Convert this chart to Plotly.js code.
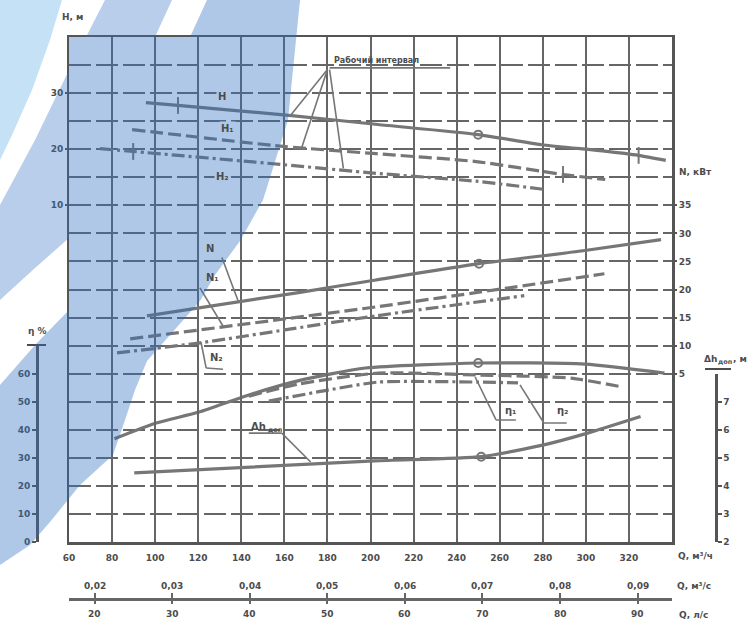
<!DOCTYPE html>
<html><head><meta charset="utf-8">
<script src="https://cdn.plot.ly/plotly-3.0.1.min.js"></script>
<style>html,body{margin:0;padding:0;background:#fff;} #chart{width:752px;height:629px;}</style>
</head><body><div id="chart"></div>
<script>
// ---------- data ----------
const qH    = [95.7, 110.6, 163.3, 203.4, 250.0, 279.3, 307.7, 324.5, 337.1];
const headH = [28.3, 27.8, 26.0, 24.4, 22.6, 20.8, 19.7, 18.9, 18.0];
const qH1    = [89.3, 159.4, 202.6, 249.0, 289.4, 309.0];
const headH1 = [23.5, 20.5, 19.2, 17.8, 15.5, 14.6];
const qH2    = [74.4, 89.8, 158.0, 202.6, 249.0, 281.5];
const headH2 = [20.1, 19.6, 17.3, 15.7, 14.3, 12.8];

const qN     = [96.2, 167.3, 202.5, 250.4, 298.7, 334.9];
const powerN = [15.3, 19.5, 21.7, 24.6, 26.9, 28.9];
const qN1     = [88.4, 202.5, 264.4, 308.6];
const powerN1 = [11.2, 16.9, 20.3, 22.8];
const qN2     = [82.3, 120.9, 202.5, 271.4];
const powerN2 = [8.7, 10.5, 15.3, 18.9];

const qEta = [81.1, 100.5, 120.4, 143.5, 166.7, 197.7, 250.0, 299.5, 336.5];
const eta  = [36.8, 42.4, 46.3, 52.4, 57.5, 62.0, 63.8, 63.4, 60.2];
const qEta1 = [143.5, 166.7, 203.7, 250.0, 293.0, 317.1];
const eta1  = [52.0, 56.3, 60.2, 59.5, 58.4, 55.2];
const qEta2 = [152.8, 180.6, 203.7, 250.0, 268.5];
const eta2  = [50.2, 54.2, 57.0, 57.0, 56.7];

const qNpsh = [90.3, 201.8, 251.4, 280.5, 300.4, 325.4];
const npsh  = [4.46, 4.89, 5.04, 5.46, 5.87, 6.47];

// best-efficiency markers (circles)
const bepQ    = [250.0, 250.4, 250.0, 251.4];
const bepVals = [22.6, 24.6, 63.8, 5.04];   // H, N, eta, dh
// working-range tick marks on the head curves
const rangeQH  = [110.6, 324.5]; const rangeH  = [27.8, 18.9];
const rangeQH1 = [289.4];        const rangeH1 = [15.5];
const rangeQH2 = [89.8];         const rangeH2 = [19.6];

// ticks
const qTicks  = [60, 80, 100, 120, 140, 160, 180, 200, 220, 240, 260, 280, 300, 320];
const qLabels = ['60','80','100','120','140','160','180','200','220','240','260','280','300','320'];
const qsTicks  = [0.02, 0.03, 0.04, 0.05, 0.06, 0.07, 0.08, 0.09];
const qsLabels = ['0,02','0,03','0,04','0,05','0,06','0,07','0,08','0,09'];
const lsTicks  = [20, 30, 40, 50, 60, 70, 80, 90];
const lsLabels = ['20','30','40','50','60','70','80','90'];
const hTicks   = [10, 20, 30];
const nTicks   = [5, 10, 15, 20, 25, 30, 35];
const etaTicks = [0, 10, 20, 30, 40, 50, 60];
const dhTicks  = [2, 3, 4, 5, 6, 7];

const Q_RANGE = [60, 340];
const H_RANGE = [-50, 40];
const N_RANGE = [-25, 65];
const ETA_RANGE = [0, 70];
const DH_RANGE = [2, 8];

// ---------- styling ----------
const CURVE = '#767676';
const GRID = '#666666';
const TXT = '#4c4c4c';
const FAMILY = 'DejaVu Sans, Liberation Sans, sans-serif';
const FONT = {family: FAMILY, size: 9, color: TXT, weight: 'bold'};
const SOLID = 'solid', DASH = '13px,5px', DASHDOT = '13px,4px,3px,4px';

function curve(x, y, yaxis, dash, w) {
  return {x: x, y: y, yaxis: yaxis, xaxis: 'x', type: 'scatter', mode: 'lines',
    line: {color: CURVE, width: w || 3.2, dash: dash, shape: 'spline', smoothing: 0.6},
    hoverinfo: 'skip', showlegend: false};
}
function marks(x, y, yaxis, symbol, size) {
  return {x: x, y: y, yaxis: yaxis, xaxis: 'x', type: 'scatter', mode: 'markers',
    marker: {symbol: symbol, size: size, color: CURVE, line: {color: CURVE, width: 2}},
    hoverinfo: 'skip', showlegend: false};
}

const traces = [
  curve(qH, headH, 'y', SOLID),
  curve(qH1, headH1, 'y', DASH),
  curve(qH2, headH2, 'y', DASHDOT),
  curve(qN, powerN, 'y3', SOLID),
  curve(qN1, powerN1, 'y3', DASH),
  curve(qN2, powerN2, 'y3', DASHDOT),
  curve(qEta, eta, 'y4', SOLID),
  curve(qEta1, eta1, 'y4', DASH),
  curve(qEta2, eta2, 'y4', DASHDOT),
  curve(qNpsh, npsh, 'y5', SOLID),
  marks([bepQ[0]], [bepVals[0]], 'y', 'circle-open', 8),
  marks([bepQ[1]], [bepVals[1]], 'y3', 'circle-open', 8),
  marks([bepQ[2]], [bepVals[2]], 'y4', 'circle-open', 8),
  marks([bepQ[3]], [bepVals[3]], 'y5', 'circle-open', 8),
  marks(rangeQH, rangeH, 'y', 'line-ns-open', 12),
  marks(rangeQH1, rangeH1, 'y', 'line-ns-open', 12),
  marks(rangeQH2, rangeH2, 'y', 'line-ns-open', 12),
  // empty traces so the extra axes are drawn
  {x: [], y: [], xaxis: 'x', yaxis: 'y2', type: 'scatter', showlegend: false},
  {x: [], y: [], xaxis: 'x2', yaxis: 'y', type: 'scatter', showlegend: false},
  {x: [], y: [], xaxis: 'x3', yaxis: 'y', type: 'scatter', showlegend: false}
];

// ---------- geometry of the page ----------
const ML = 20, MT = 37, PW = 712, PH = 572;     // paper area in px
function px2p(x, y) { return [(x - ML) / PW, (MT + PH - y) / PH]; }
function pathOf(pts) {
  return pts.map((p, i) => { const q = px2p(p[0], p[1]); return (i ? 'L' : 'M') + q[0].toFixed(4) + ',' + q[1].toFixed(4); }).join(' ') + ' Z';
}
const X_DOM = [(69 - ML) / PW, (672 - ML) / PW];
const Y_DOM = [(MT + PH - 542) / PH, 1];
const ETA_TOP = Y_DOM[0] + (ETA_RANGE[1] - ETA_RANGE[0]) * 2.806 / PH;
const DH_TOP = Y_DOM[0] + (DH_RANGE[1] - DH_RANGE[0]) * 28.06 / PH;
const SCALE_POS = (MT + PH - 599) / PH;

// blue tint of the scanned sheet (decoration only)
const tintL  = [[0,0],[62,0],[50,40],[32,90],[12,135],[0,160]];
const tintM1 = [[105,0],[172,0],[155,37],[86,37]];
const tintM2 = [[69,70],[69,238],[35,268],[0,300],[0,205],[35,140]];
const tintD  = [[207,0],[300,0],[294,60],[288,120],[263,200],[240,241],[215,275],[200,301],[170,335],[147,361],
                [135,390],[125,420],[113,455],[80,485],[50,522],[30,545],[0,565],[0,385],[35,345],[69,310],[69,37],[190,37]];

function tint(pts, color, op) {
  return {type: 'path', xref: 'paper', yref: 'paper', path: pathOf(pts), fillcolor: color, opacity: op, line: {width: 0}, layer: 'above'};
}
function seg(x0, y0, x1, y1, yref) {
  return {type: 'line', xref: 'x', yref: yref, x0: x0, y0: y0, x1: x1, y1: y1, line: {color: CURVE, width: 1.6}, layer: 'above'};
}
function pseg(a, b, c, d) {
  const p = px2p(a, b), q = px2p(c, d);
  return {type: 'line', xref: 'paper', yref: 'paper', x0: p[0], y0: p[1], x1: q[0], y1: q[1], line: {color: TXT, width: 2}};
}

const shapes = [
  // leader lines: working range
  seg(180, 34.2, 163.0, 26.1, 'y'), seg(180, 34.2, 168.0, 20.2, 'y'), seg(181, 34.2, 187.4, 16.6, 'y'),
  seg(181, 34.5, 237, 34.5, 'y'),
  // N labels
  seg(131.0, 25.7, 138.5, 18.0, 'y3'),
  seg(120.8, 20.3, 131.5, 13.5, 'y3'),
  seg(121.3, 10.6, 123.7, 6.0, 'y3'), seg(123.7, 6.0, 131.5, 5.8, 'y3'),
  // eta labels
  seg(248.6, 58.8, 258.3, 43.5, 'y4'), seg(258.3, 43.5, 267.5, 43.5, 'y4'),
  seg(269.4, 56.0, 280.5, 42.4, 'y4'), seg(280.5, 42.4, 291.1, 42.4, 'y4'),
  // dh label
  seg(143.5, 5.88, 158.8, 5.88, 'y5'), seg(158.8, 5.88, 172.2, 4.85, 'y5'),
  // bars on top of the eta and dh scales
  pseg(27, 345, 46, 345), pseg(705, 369, 731, 369),
  // blue tint of the scan
  tint(tintL, '#3a9ae0', 0.30),
  tint(tintM1, '#2f6fc0', 0.34),
  tint(tintM2, '#2f6fc0', 0.34),
  tint(tintD, '#2f6fc0', 0.38)
];

const BLUEBG = 'rgb(176,200,231)';
function lab(text, x, y, yref, opts) {
  return Object.assign({text: text, x: x, y: y, xref: 'x', yref: yref, showarrow: false,
    xanchor: 'center', yanchor: 'middle', borderpad: 0,
    font: {family: FAMILY, size: 10, color: TXT, weight: 'bold'}}, opts || {});
}
function plab(text, x, y, opts) {
  const p = px2p(x, y);
  return Object.assign({text: text, x: p[0], y: p[1], xref: 'paper', yref: 'paper', showarrow: false,
    xanchor: 'left', yanchor: 'middle', borderpad: 0, font: {family: FAMILY, size: 9, color: TXT, weight: 'bold'}}, opts || {});
}
const SMALL = {family: FAMILY, size: 6.5, color: TXT, weight: 'bold'};

const annotations = [
  lab('H', 131.0, 29.4, 'y', {bgcolor: BLUEBG, borderpad: 1}),
  lab('H₁', 133.4, 23.7, 'y', {bgcolor: BLUEBG, borderpad: 1}),
  lab('H₂', 131.5, 15.1, 'y', {bgcolor: BLUEBG, borderpad: 1}),
  lab('Рабочий интервал', 182.6, 35.9, 'y', {xanchor: 'left', font: {family: FAMILY, size: 8, color: TXT, weight: 'bold'}}),
  lab('N', 125.5, 27.3, 'y3'),
  lab('N₁', 126.4, 22.1, 'y3'),
  lab('N₂', 128.7, 7.8, 'y3'),
  lab('η₁', 265.3, 47.0, 'y4'),
  lab('η₂', 289.3, 47.0, 'y4'),
  lab('Δh', 152.0, 6.1, 'y5', {xanchor: 'right'}),
  lab('доп', 152.1, 5.98, 'y5', {xanchor: 'left', font: SMALL}),
  plab('H, м', 61, 17),
  plab('N, кВт', 678, 172),
  plab('η %', 27, 331),
  plab('Δh', 703, 359),
  plab('доп', 716.5, 362, {font: SMALL}),
  plab(', м', 732, 359),
  plab('Q, м³/ч', 677, 556),
  plab('Q, м³/с', 676, 586),
  plab('Q, л/с', 678, 615)
];
// secondary flow scales: labels placed on their own axes
qsTicks.forEach((v, i) => annotations.push({text: qsLabels[i], x: v, xref: 'x2', y: px2p(0, 586)[1], yref: 'paper',
  xanchor: 'center', yanchor: 'middle', borderpad: 0, showarrow: false, font: {family: FAMILY, size: 9, color: TXT, weight: 'bold'}}));
lsTicks.forEach((v, i) => annotations.push({text: lsLabels[i], x: v, xref: 'x3', y: px2p(0, 614)[1], yref: 'paper',
  xanchor: 'center', yanchor: 'middle', borderpad: 0, showarrow: false, font: {family: FAMILY, size: 9, color: TXT, weight: 'bold'}}));

const layout = {
  width: 752, height: 629,
  margin: {l: ML, r: 752 - ML - PW, t: MT, b: 629 - MT - PH, pad: 0},
  paper_bgcolor: '#ffffff', plot_bgcolor: 'rgba(0,0,0,0)',
  font: FONT,
  showlegend: false,
  xaxis: {domain: X_DOM, range: Q_RANGE, anchor: 'y', tickmode: 'array', tickvals: qTicks, ticktext: qLabels,
    showgrid: true, gridcolor: GRID, gridwidth: 2, zeroline: false,
    showline: true, linecolor: '#555', linewidth: 2.5, mirror: true,
    ticks: 'outside', ticklen: 6, tickcolor: 'rgba(0,0,0,0)', tickfont: FONT},
  xaxis2: {overlaying: 'x', anchor: 'free', position: SCALE_POS, side: 'top',
    range: [Q_RANGE[0] / 3600, Q_RANGE[1] / 3600], tickmode: 'array', tickvals: qsTicks, showticklabels: false,
    showgrid: false, zeroline: false, showline: true, linecolor: '#666', linewidth: 2.5,
    ticks: 'outside', ticklen: 5, tickwidth: 2, tickcolor: '#666'},
  xaxis3: {overlaying: 'x', anchor: 'free', position: SCALE_POS, side: 'bottom',
    range: [Q_RANGE[0] / 3.6, Q_RANGE[1] / 3.6], tickmode: 'array', tickvals: lsTicks, showticklabels: false,
    showgrid: false, zeroline: false, showline: false,
    ticks: 'outside', ticklen: 4, tickwidth: 2, tickcolor: '#666'},
  yaxis: {domain: Y_DOM, range: H_RANGE, anchor: 'x', tick0: 0, dtick: 5, showticklabels: false, ticks: '',
    showgrid: true, gridcolor: GRID, gridwidth: 2, griddash: '22px,5px', zeroline: false,
    showline: true, linecolor: '#555', linewidth: 2.5, mirror: true},
  yaxis2: {overlaying: 'y', anchor: 'x', side: 'left', range: H_RANGE, tickmode: 'array', tickvals: hTicks,
    showgrid: false, zeroline: false, showline: false, ticks: 'outside', ticklen: 3, tickwidth: 2, tickcolor: '#555', tickfont: FONT},
  yaxis3: {overlaying: 'y', anchor: 'x', side: 'right', range: N_RANGE, tickmode: 'array', tickvals: nTicks,
    showgrid: false, zeroline: false, showline: false, ticks: 'outside', ticklen: 4, tickwidth: 2, tickcolor: '#555', tickfont: FONT},
  yaxis4: {domain: [Y_DOM[0], ETA_TOP], anchor: 'free', position: (37 - ML) / PW, side: 'left', range: ETA_RANGE,
    tickmode: 'array', tickvals: etaTicks, showgrid: false, zeroline: false,
    showline: true, linecolor: '#555', linewidth: 2.5, ticks: 'outside', ticklen: 4, tickwidth: 2, tickcolor: '#555', tickfont: FONT},
  yaxis5: {domain: [Y_DOM[0], DH_TOP], anchor: 'free', position: (716 - ML) / PW, side: 'right', range: DH_RANGE,
    tickmode: 'array', tickvals: dhTicks, showgrid: false, zeroline: false,
    showline: true, linecolor: '#555', linewidth: 2.5, ticks: 'outside', ticklen: 4, tickwidth: 2, tickcolor: '#555', tickfont: FONT},
  shapes: shapes,
  annotations: annotations
};

Plotly.newPlot('chart', traces, layout, {staticPlot: true, displayModeBar: false});
</script>
</body></html>
